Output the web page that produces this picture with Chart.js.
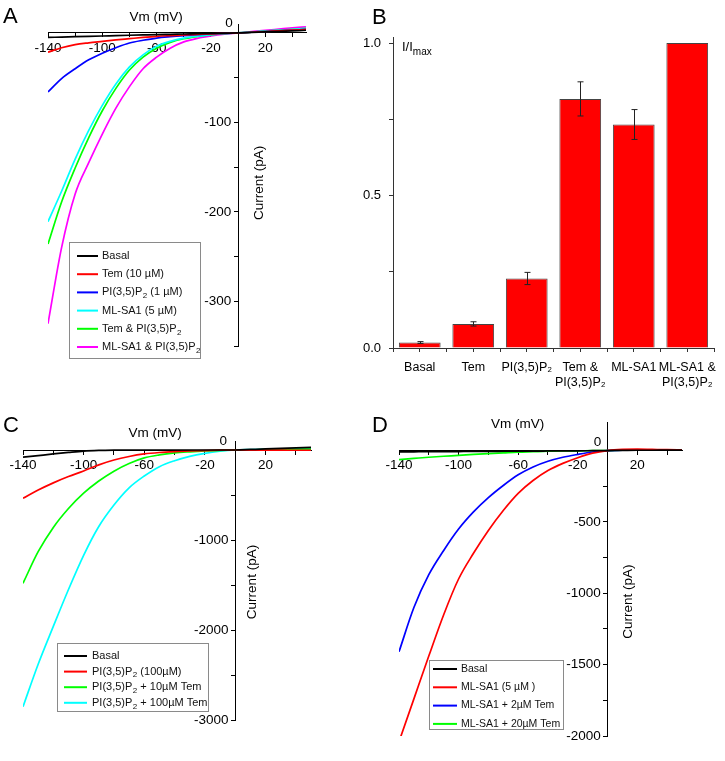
<!DOCTYPE html>
<html>
<head>
<meta charset="utf-8">
<script src="https://cdn.jsdelivr.net/npm/chart.js@4.4.0/dist/chart.umd.min.js"></script>
<style>
  html, body { margin: 0; padding: 0; background: #fff; }
  #wrap { position: relative; width: 725px; height: 761px; overflow: hidden; }
  canvas { position: absolute; }
</style>
</head>
<body>
<div id="wrap">
  <canvas id="cA" width="362" height="370" style="left:0;top:0;width:362px;height:370px"></canvas>
  <canvas id="cB" width="363" height="400" style="left:362px;top:0;width:363px;height:400px"></canvas>
  <canvas id="cC" width="362" height="391" style="left:0;top:370px;width:362px;height:391px"></canvas>
  <canvas id="cD" width="363" height="391" style="left:362px;top:370px;width:363px;height:391px"></canvas>
</div>
<script>
// voltage steps (mV), same for all three I-V panels
const volts = [-140, -130, -120, -110, -100, -90, -80, -70, -60, -50, -40, -30, -20, -10, 0, 10, 20, 30, 40, 50];

// panel A currents (pA)
const aBasal  = [-5, -4.6, -4.2, -3.8, -3.4, -3, -2.6, -2.2, -1.8, -1.5, -1.2, -0.9, -0.6, -0.3, 0, 0.6, 1.2, 1.8, 2.4, 3];
const aTem    = [-21.5, -16.5, -13, -11, -9.4, -7.8, -6.4, -5, -3.8, -3, -2.3, -1.5, -1, -0.5, 0, 0.8, 1.6, 2.4, 3.2, 4];
const aPI     = [-66, -51, -40, -30, -22.6, -16.5, -11.3, -8.2, -5.7, -4.2, -3, -2, -1.2, -0.5, 0, 0.8, 1.6, 2.4, 3.2, 4];
const aML     = [-211, -177, -141, -109, -81, -57, -38, -24.5, -15, -9.4, -5.7, -3.5, -2, -0.8, 0, 1, 2, 3, 4, 5];
const aTemPI  = [-236, -189, -151, -117, -87, -62, -41.5, -27, -17, -10.5, -6.5, -4, -2.2, -0.9, 0, 1, 2, 3, 4, 5];
const aMLPI   = [-325, -240, -180, -145, -113, -84, -60, -40, -27, -17, -10, -6, -3.3, -1.3, 0, 1.5, 3, 4.3, 5.6, 6.8];

// panel B, normalised current
const bLabels = ['Basal', 'Tem', 'PI(3,5)P₂', ['Tem &', 'PI(3,5)P₂'], 'ML-SA1', ['ML-SA1 &', 'PI(3,5)P₂']];
const bValues = [0.018, 0.079, 0.228, 0.817, 0.733, 1.0];
const bErrors = [0.003, 0.007, 0.02, 0.056, 0.049, 0];

// panel C currents (pA)
const cBasal  = [-80, -62, -44, -27, -12, -5, -2, -1, 0, 0, 0, 0, 0, 0, 0, 6, 12, 18, 24, 30];
const cPI     = [-537, -445, -365, -295, -233, -165, -111, -72, -44, -28, -18, -11, -6, -2, 0, -1, -2, -2, -3, -3];
const cPI10   = [-1481, -1130, -860, -650, -480, -345, -235, -150, -88, -55, -33, -20, -10, -4, 0, 2, 4, 6, 8, 10];
const cPI100  = [-2852, -2380, -1960, -1550, -1170, -850, -611, -420, -289, -185, -119, -70, -37, -14, 0, 4, 7, 10, 13, 15];

// panel D currents (pA)
const dBasal  = [-10, -9, -8, -8, -7, -6, -6, -5, -4, -4, -3, -2, -2, -1, 0, 1, 2, 2, 3, 3];
const dML     = [-2040, -1740, -1440, -1150, -900, -720, -560, -420, -300, -210, -140, -90, -50, -18, 0, 8, 10, 8, 6, 5];
const dML2    = [-1410, -1100, -870, -700, -550, -430, -330, -245, -170, -115, -75, -47, -27, -10, 0, 2, 3, 3, 3, 3];
const dML20   = [-63, -55, -47, -40, -34, -27, -21, -16, -11, -8, -5, -3, -2, -1, 0, 3, 4, 5, 5, 5];

const FONT = '"Liberation Sans", Arial, Helvetica, sans-serif';
Chart.defaults.font.family = FONT;
Chart.defaults.color = '#000';

// put a tick at every multiple of step inside the scale range
function stepTicks(step) {
  return s => {
    const out = [];
    const first = Math.ceil(s.min / step - 1e-9);
    const last = Math.floor(s.max / step + 1e-9);
    for (let k = first; k <= last; k++) out.push({ value: +(k * step).toFixed(6) });
    s.ticks = out;
  };
}

// draws text, turning every '₂' into a small lowered 2
function drawRich(ctx, text, x, y, size) {
  const parts = text.split('₂');
  let cx = x;
  parts.forEach((p, i) => {
    ctx.font = size + 'px ' + FONT;
    ctx.fillText(p, cx, y);
    cx += ctx.measureText(p).width;
    if (i < parts.length - 1) {
      ctx.font = Math.round(size * 0.72) + 'px ' + FONT;
      ctx.fillText('2', cx + 0.5, y + size * 0.32);
      cx += ctx.measureText('2').width + 0.5;
    }
  });
}

function panelLetter(ctx, letter, x, y) {
  ctx.save();
  ctx.font = '22px ' + FONT;
  ctx.fillStyle = '#000';
  ctx.textAlign = 'left';
  ctx.textBaseline = 'alphabetic';
  ctx.fillText(letter, x, y);
  ctx.restore();
}

// axis titles, origin label, legend box and panel letter for the I-V plots
const ivDecor = {
  id: 'ivDecor',
  afterDraw(chart, args, o) {
    const ctx = chart.ctx;
    const x0 = chart.scales.x.getPixelForValue(0);
    const y0 = chart.scales.y.getPixelForValue(0);
    ctx.save();
    ctx.fillStyle = '#000';
    ctx.font = '13.5px ' + FONT;
    ctx.textAlign = 'center';
    ctx.textBaseline = 'middle';
    ctx.fillText('0', x0 + o.zero[0], y0 + o.zero[1]);
    ctx.fillText('Vm (mV)', x0 + o.xTitle[0], y0 + o.xTitle[1]);
    ctx.save();
    ctx.translate(x0 + o.yTitle[0], y0 + o.yTitle[1]);
    ctx.rotate(-Math.PI / 2);
    ctx.fillText('Current (pA)', 0, 0);
    ctx.restore();

    // legend
    const L = o.legend;
    ctx.strokeStyle = '#8a8a8a';
    ctx.lineWidth = 1;
    ctx.strokeRect(L.x + 0.5, L.y + 0.5, L.w, L.h);
    ctx.textAlign = 'left';
    chart.data.datasets.forEach((ds, i) => {
      const ry = L.row0 + i * L.step;
      ctx.strokeStyle = ds.borderColor;
      ctx.lineWidth = 2;
      ctx.beginPath();
      ctx.moveTo(L.l1, ry);
      ctx.lineTo(L.l2, ry);
      ctx.stroke();
      ctx.fillStyle = '#111';
      drawRich(ctx, ds.label, L.tx, ry, L.size);
    });
    ctx.restore();
    panelLetter(ctx, o.letter, o.letterPos[0], o.letterPos[1]);
  }
};

function ivChart(id, series, ymin, ymax, ystep, ylabelStep, pad, decor) {
  return new Chart(document.getElementById(id), {
    type: 'line',
    data: {
      datasets: series.map(s => ({
        label: s.label,
        data: volts.map((v, i) => ({ x: v, y: s.values[i] })),
        borderColor: s.color,
        borderWidth: 1.7,
        pointRadius: 0,
        cubicInterpolationMode: 'monotone',
        fill: false
      }))
    },
    options: {
      responsive: false,
      animation: false,
      events: [],
      layout: { padding: pad },
      plugins: { legend: { display: false }, tooltip: { enabled: false }, ivDecor: decor },
      scales: {
        x: {
          type: 'linear', min: -140, max: 50,
          position: { y: 0 },
          afterFit: s => { s.height = 0; },
          afterBuildTicks: stepTicks(20),
          ticks: {
            autoSkip: false, maxRotation: 0, padding: 3,
            font: { size: 13.5 }, color: '#000',
            callback: v => (v !== 0 && (v + 20) % 40 === 0) ? String(v) : ''
          },
          grid: { drawOnChartArea: false, tickLength: 4, color: '#000' },
          border: { color: '#000', width: 1 }
        },
        y: {
          type: 'linear', min: ymin, max: ymax,
          position: { x: 0 },
          afterFit: s => { s.width = 0; },
          afterBuildTicks: stepTicks(ystep),
          ticks: {
            autoSkip: false,
            font: { size: 13.5 }, color: '#000',
            callback: v => (v !== 0 && v % ylabelStep === 0) ? String(v) + '\u2002' : ''
          },
          grid: { drawOnChartArea: false, tickLength: 4, color: '#000' },
          border: { color: '#000', width: 1 }
        }
      }
    },
    plugins: [ivDecor]
  });
}

// ---- panel A
ivChart('cA', [
  { label: 'Basal', values: aBasal, color: '#000000' },
  { label: 'Tem (10 µM)', values: aTem, color: '#ff0000' },
  { label: 'PI(3,5)P₂ (1 µM)', values: aPI, color: '#0000ff' },
  { label: 'ML-SA1 (5 µM)', values: aML, color: '#00ffff' },
  { label: 'Tem & PI(3,5)P₂', values: aTemPI, color: '#00ff00' },
  { label: 'ML-SA1 & PI(3,5)P₂', values: aMLPI, color: '#ff00ff' }
], -350, 10, 50, 100, { left: 48, right: 56, top: 24, bottom: 24 }, {
  zero: [-9, -10], xTitle: [-82, -16], yTitle: [21, 150],
  legend: { x: 69, y: 242, w: 131, h: 116, row0: 256, step: 18.2, l1: 77, l2: 98, tx: 102, size: 11 },
  letter: 'A', letterPos: [3, 23]
});

// ---- panel C
ivChart('cC', [
  { label: 'Basal', values: cBasal, color: '#000000' },
  { label: 'PI(3,5)P₂ (100µM)', values: cPI, color: '#ff0000' },
  { label: 'PI(3,5)P₂ + 10µM Tem', values: cPI10, color: '#00ff00' },
  { label: 'PI(3,5)P₂ + 100µM Tem', values: cPI100, color: '#00ffff' }
], -3000, 100, 500, 1000, { left: 23, right: 51, top: 71, bottom: 41 }, {
  zero: [-12, -9], xTitle: [-80, -17], yTitle: [17, 132],
  legend: { x: 57, y: 273, w: 151, h: 68, row0: 286, step: 15.6, l1: 64, l2: 87, tx: 92, size: 11 },
  letter: 'C', letterPos: [3, 62]
});

// ---- panel D
ivChart('cD', [
  { label: 'Basal', values: dBasal, color: '#000000' },
  { label: 'ML-SA1 (5 µM )', values: dML, color: '#ff0000' },
  { label: 'ML-SA1 + 2µM Tem', values: dML2, color: '#0000ff' },
  { label: 'ML-SA1 + 20µM Tem', values: dML20, color: '#00ff00' }
], -2000, 200, 250, 500, { left: 37, right: 43, top: 52, bottom: 25 }, {
  zero: [-10, -8], xTitle: [-90, -26], yTitle: [21, 151],
  legend: { x: 67, y: 290, w: 134, h: 69, row0: 299, step: 18.3, l1: 71, l2: 95, tx: 99, size: 10.5 },
  letter: 'D', letterPos: [10, 62]
});

// ---- panel B
const barDecor = {
  id: 'barDecor',
  afterDatasetsDraw(chart) {
    const ctx = chart.ctx;
    const ys = chart.scales.y;
    const meta = chart.getDatasetMeta(0);
    ctx.save();
    ctx.strokeStyle = '#222';
    ctx.lineWidth = 1;
    meta.data.forEach((bar, i) => {
      const e = bErrors[i];
      if (!e) return;
      const x = Math.round(bar.x) + 0.5;
      const t = ys.getPixelForValue(bValues[i] + e);
      const b = ys.getPixelForValue(bValues[i] - e);
      ctx.beginPath();
      ctx.moveTo(x, t); ctx.lineTo(x, b);
      ctx.moveTo(x - 3, t); ctx.lineTo(x + 3, t);
      ctx.moveTo(x - 3, b); ctx.lineTo(x + 3, b);
      ctx.stroke();
    });
    ctx.restore();
  },
  afterDraw(chart) {
    const ctx = chart.ctx;
    const ca = chart.chartArea;
    ctx.save();
    ctx.fillStyle = '#000';
    ctx.textAlign = 'left';
    ctx.textBaseline = 'middle';
    ctx.font = '13px ' + FONT;
    const tx = ca.left + 9, ty = ca.top + 10;
    ctx.fillText('I/I', tx, ty);
    const w = ctx.measureText('I/I').width;
    ctx.font = '10px ' + FONT;
    ctx.fillText('max', tx + w, ty + 5);
    ctx.restore();
    panelLetter(ctx, 'B', 10, 24);
  }
};

new Chart(document.getElementById('cB'), {
  type: 'bar',
  data: {
    labels: bLabels,
    datasets: [{
      data: bValues,
      backgroundColor: '#ff0000',
      borderColor: '#444',
      borderWidth: 1,
      barPercentage: 0.78,
      categoryPercentage: 1
    }]
  },
  options: {
    responsive: false,
    animation: false,
    events: [],
    layout: { padding: { left: 0, right: 11, top: 37, bottom: 0 } },
    plugins: { legend: { display: false }, tooltip: { enabled: false } },
    scales: {
      x: {
        weight: 0,
        afterFit: s => { s.height = 52; },
        ticks: { font: { size: 12.5 }, color: '#000', maxRotation: 0, autoSkip: false, padding: 8 },
        grid: { drawOnChartArea: false, tickLength: 4, color: '#333', offset: true },
        border: { color: '#333' }
      },
      x2: {
        type: 'category', position: 'bottom', weight: -1, offset: true,
        afterFit: s => { s.height = 0; },
        ticks: { display: false },
        grid: { drawOnChartArea: false, offset: false, tickLength: 4, color: '#333' },
        border: { display: false }
      },
      y: {
        min: 0, max: 1.02,
        afterFit: s => { s.width = 31; },
        afterBuildTicks: stepTicks(0.25),
        ticks: {
          padding: 8, font: { size: 13 }, color: '#000',
          callback: v => (Math.round(v * 4) % 2 === 0) ? v.toFixed(1) : ''
        },
        grid: { drawOnChartArea: false, tickLength: 4, color: '#333' },
        border: { color: '#333' }
      }
    }
  },
  plugins: [barDecor]
});
</script>
</body>
</html>
